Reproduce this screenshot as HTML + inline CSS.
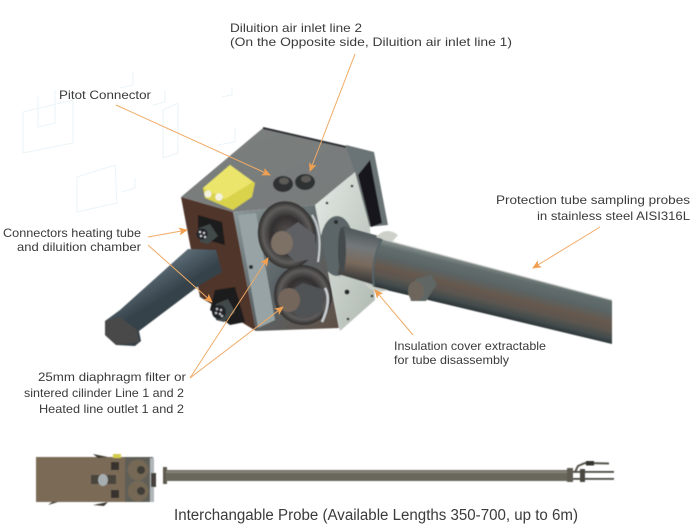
<!DOCTYPE html>
<html><head><meta charset="utf-8"><style>
html,body{margin:0;padding:0;background:#fff;width:700px;height:530px;overflow:hidden}
svg{display:block}
text{font-family:"Liberation Sans",sans-serif;font-size:12px;fill:#3a3a3a;font-weight:400}
</style></head><body>
<svg width="700" height="530" viewBox="0 0 700 530" xmlns="http://www.w3.org/2000/svg">
<defs>
<linearGradient id="tube" gradientUnits="userSpaceOnUse" x1="380" y1="240" x2="369" y2="285">
<stop offset="0" stop-color="#858e8c"/><stop offset=".12" stop-color="#626e6d"/><stop offset=".34" stop-color="#5a6464"/><stop offset=".55" stop-color="#67594e"/><stop offset=".72" stop-color="#5c5650"/><stop offset=".88" stop-color="#434c4d"/><stop offset="1" stop-color="#2c3538"/>
</linearGradient>
<linearGradient id="cyl" gradientUnits="userSpaceOnUse" x1="352" y1="226" x2="342" y2="280">
<stop offset="0" stop-color="#4a5254"/><stop offset=".35" stop-color="#73787a"/><stop offset=".65" stop-color="#7a6a5d"/><stop offset="1" stop-color="#2e3234"/>
</linearGradient>
<linearGradient id="top" x1="0" y1="0" x2="1" y2="1"><stop offset="0" stop-color="#7b7f7d"/><stop offset="1" stop-color="#777b7a"/></linearGradient>
<linearGradient id="front" x1="0" y1="0" x2="1" y2="1"><stop offset="0" stop-color="#8f9a9b"/><stop offset=".5" stop-color="#5b6467"/><stop offset="1" stop-color="#5f5046"/></linearGradient>
<linearGradient id="right" x1="0" y1="0" x2="1" y2="1"><stop offset="0" stop-color="#e4eae4"/><stop offset="1" stop-color="#aeb7b0"/></linearGradient>
<linearGradient id="handle" gradientUnits="userSpaceOnUse" x1="150" y1="270" x2="166" y2="296"><stop offset="0" stop-color="#5f6f79"/><stop offset="1" stop-color="#35424a"/></linearGradient>
<radialGradient id="disc"><stop offset="0" stop-color="#5c5755"/><stop offset=".55" stop-color="#322f30"/><stop offset=".82" stop-color="#5f5d5c"/><stop offset="1" stop-color="#2f2d2c"/></radialGradient>
<filter id="b"><feGaussianBlur stdDeviation=".6"/></filter>
<filter id="t"><feGaussianBlur stdDeviation=".22"/></filter>
<marker id="a" markerWidth="9" markerHeight="8" refX="8" refY="4" orient="auto" markerUnits="userSpaceOnUse"><path d="M0 0L9 4L0 8L2 4Z" fill="#f0a050"/></marker>
</defs>

<!-- faint background outlines -->
<g fill="none" stroke="#eaf4f9" stroke-width="1">
<path d="M23 153L23 112L73 100L73 143Z"/>
<path d="M38 97L38 127L55 123L55 90"/>
<path d="M163 158L178 153L178 103L163 110Z"/>
<path d="M77 212L117 203L115 165L77 177Z"/>
<path d="M122 192L135 188L135 178"/>
<path d="M218 145L235 142L235 128"/>
<path d="M120 88L133 85L133 72"/>
<path d="M153 105L165 102L165 90"/>
<path d="M222 97L232 95L232 88"/>
</g>

<g filter="url(#b)">
<!-- back bracket -->
<path d="M346 145L374 152L388 225L355 228Z" fill="#6b7374"/>
<path d="M358 175L370 160L382 223L371 227Z" fill="#17191a"/>
<!-- right face -->
<path d="M315 205L355 172L370 228L375 300L340 331Z" fill="url(#right)"/>
<!-- hub and cylinder -->
<ellipse cx="337" cy="246" rx="17" ry="30" fill="#5c6668"/>
<path d="M343 226L386 238L378 286L338 274Z" fill="url(#cyl)"/>
<ellipse cx="342" cy="250" rx="4" ry="23" fill="#454b4d"/>
<!-- tube -->
<path d="M382 239L612 300L612 344L374 287Q370 262 382 239Z" fill="url(#tube)"/>
<path d="M382 239L612 300" stroke="#d5d8d4" stroke-width="1" fill="none"/>
<path d="M382 239Q370 262 374 287" stroke="#566468" stroke-width="2" fill="none"/>
<!-- washer, visible above and below the tube -->
<path d="M376 237Q386 226 398 235L392 242Z" fill="#cdd0c8"/>
<path d="M364 282Q373 296 388 290L374 287Z" fill="#cdd0c8"/>
<!-- stub -->
<path d="M416 279L431 274L437 284L426 301L411 301L408 291Z" fill="#5e6664"/>
<ellipse cx="416" cy="291" rx="8" ry="10" fill="#6e665d"/>
<!-- top face -->
<path d="M181 197L263 128L346 147L355 172L315 205L233 212Z" fill="url(#top)"/>
<path d="M263 128L346 147" stroke="#2b2e30" stroke-width="2" fill="none"/>
<!-- front face -->
<path d="M233 212L315 205L339 328L256 331Z" fill="url(#front)"/>
<path d="M238 215L256 213L275 320L258 328Z" fill="#97a3a5"/>
<!-- left face -->
<path d="M181 197L233 212L256 331L200 297Z" fill="#4f352a"/>
<!-- left recesses -->
<path d="M198 215L222 222L225 245L207 240L198 232Z" fill="#1f1c1c"/>
<path d="M215 290L235 287L245 322L230 325L210 310Z" fill="#1f1c1c"/>
<!-- handle -->
<path d="M188 249L216 250L222 272L200 285L139 331L141 341L135 346L116 345L105 335L105 321L120 310Z" fill="url(#handle)"/>
<path d="M105 321L120 317L137 330L139 342L116 345L105 335Z" fill="#4a4a48"/>
<!-- connector plugs -->
<path d="M199 228L210 224L218 236L208 244L200 242Z" fill="#42484a"/>
<ellipse cx="202" cy="234" rx="5.500" ry="5.500" fill="#23262a"/>
<g fill="#d8d8d8"><circle cx="200" cy="232" r="1.100"/><circle cx="204" cy="233" r="1.100"/><circle cx="201" cy="236" r="1.100"/><circle cx="205" cy="237" r="1.100"/></g>
<path d="M216 304L228 299L235 312L224 322L216 320Z" fill="#42484a"/>
<ellipse cx="219" cy="312" rx="7" ry="7" fill="#22252a"/>
<g fill="#c8c8c8"><circle cx="217" cy="309" r="1.100"/><circle cx="221" cy="310" r="1.100"/><circle cx="216" cy="313" r="1.100"/><circle cx="220" cy="314" r="1.100"/><circle cx="222" cy="316" r="1.100"/></g>
<!-- filters -->
<ellipse cx="287" cy="235" rx="29" ry="34" transform="rotate(-12 287 235)" fill="url(#disc)"/>
<ellipse cx="303" cy="295" rx="29" ry="30" transform="rotate(-12 303 295)" fill="url(#disc)"/>
<path d="M281 234L298 222L315 235L316 258L296 262L283 250Z" fill="#5f6163"/>
<ellipse cx="282" cy="243" rx="11" ry="12" fill="#7d6f65"/>
<path d="M288 292L303 283L325 290L322 312L300 318L285 305Z" fill="#505356"/>
<ellipse cx="289" cy="300" rx="11" ry="12" fill="#75665c"/>
<path d="M312 215Q323 232 318 262" stroke="#c9cdd0" stroke-width="2" fill="none"/>
<path d="M325 288Q332 300 322 322" stroke="#c9cdd0" stroke-width="2.500" fill="none"/>
<!-- yellow connector -->
<path d="M203 188L230 165L255 183L252 197L233 210L205 198Z" fill="#d9d24c"/>
<path d="M203 188L230 165L253 182L225 199Z" fill="#ebe56c"/>
<circle cx="208" cy="194" r="3.600" fill="#f4f2df"/><circle cx="219" cy="197" r="3.800" fill="#f4f2df"/>
<!-- top connectors -->
<ellipse cx="283" cy="184" rx="10" ry="8" fill="#2f3031"/><ellipse cx="284" cy="181" rx="5" ry="3.500" fill="#5b5a56"/>
<ellipse cx="305" cy="182" rx="10" ry="8" fill="#2f3031"/><ellipse cx="306" cy="179" rx="5" ry="3.500" fill="#5b5a56"/>
<!-- bolts -->
<g fill="#26292b"><circle cx="327" cy="203" r="1.300"/><circle cx="352" cy="186" r="1.300"/><circle cx="347" cy="292" r="2.500"/><circle cx="348" cy="319" r="1.300"/><circle cx="372" cy="296" r="1.300"/><circle cx="251" cy="267" r="2"/><circle cx="336" cy="222" r="2"/></g>

<!-- bottom view -->
<rect x="36" y="457" width="90" height="45" fill="#7a6a56"/>
<path d="M93 454L108 457L98 458ZM48 505L58 502L52 502Z" fill="#3e3a33"/>
<path d="M93 505L108 502L104 506Z" fill="#3e3a33"/>
<rect x="113" y="454" width="8" height="4" fill="#d4cc4c"/>
<rect x="111" y="462" width="8" height="8" fill="#37332d"/>
<rect x="111" y="490" width="8" height="8" fill="#37332d"/>
<rect x="91" y="475" width="25" height="9" fill="#49453d"/>
<ellipse cx="103" cy="480" rx="5" ry="6" fill="#a8aeb0"/>
<rect x="125" y="457" width="28" height="45" fill="#5f5e58"/>
<rect x="150" y="458" width="4" height="44" fill="#aeb6b8"/>
<circle cx="138" cy="470" r="10.500" fill="#746855"/><circle cx="141" cy="470" r="4" fill="#3f3c38"/>
<circle cx="138" cy="491" r="10.500" fill="#746855"/><circle cx="141" cy="491" r="4" fill="#3f3c38"/>
<rect x="151" y="473" width="5" height="14" fill="#46433d"/>
<rect x="163" y="467" width="4" height="17" fill="#5e5a50"/>
<rect x="166" y="470" width="402" height="11" fill="#6a675c"/>
<rect x="166" y="471" width="402" height="2" fill="#85827a"/>
<rect x="567" y="468" width="6" height="14" fill="#5f5c52"/>
<rect x="580" y="469" width="5" height="13" fill="#4a473f"/>
<path d="M575 472L578 466L585 463L609 463.500" stroke="#55534c" stroke-width="2" fill="none"/>
<rect x="586" y="461" width="8" height="4.500" fill="#33322e"/>
<rect x="573" y="471" width="41" height="1.800" fill="#4a4943"/>
<rect x="573" y="478" width="41" height="1.800" fill="#4a4943"/>
</g>

<!-- arrows -->
<g stroke="#f0aa66" stroke-width="1" fill="none">
<path d="M116 105L270 175" marker-end="url(#a)"/>
<path d="M355 54L310 171" marker-end="url(#a)"/>
<path d="M148 237L187 230" marker-end="url(#a)"/>
<path d="M148 245L212 302" marker-end="url(#a)"/>
<path d="M190 378L268 258" marker-end="url(#a)"/>
<path d="M190 378L283 307" marker-end="url(#a)"/>
<path d="M600 227L533 268" marker-end="url(#a)"/>
<path d="M413 335L375 290" marker-end="url(#a)"/>
</g>

<!-- labels -->
<g filter="url(#t)">
<text x="230" y="32" textLength="132" lengthAdjust="spacingAndGlyphs">Diluition air inlet line 2</text>
<text x="230" y="46" textLength="282" lengthAdjust="spacingAndGlyphs">(On the Opposite side, Diluition air inlet line 1)</text>
<text x="59" y="99" textLength="92" lengthAdjust="spacingAndGlyphs">Pitot Connector</text>
<text x="3" y="237" textLength="138" lengthAdjust="spacingAndGlyphs">Connectors heating tube</text>
<text x="17" y="251" textLength="124" lengthAdjust="spacingAndGlyphs">and diluition chamber</text>
<text x="38" y="381" textLength="148" lengthAdjust="spacingAndGlyphs">25mm diaphragm filter or</text>
<text x="24" y="397" textLength="160" lengthAdjust="spacingAndGlyphs">sintered cilinder Line 1 and 2</text>
<text x="39" y="413" textLength="145" lengthAdjust="spacingAndGlyphs">Heated line outlet 1 and 2</text>
<text x="496" y="204" textLength="194" lengthAdjust="spacingAndGlyphs">Protection tube sampling probes</text>
<text x="537" y="220" textLength="153" lengthAdjust="spacingAndGlyphs">in stainless steel AISI316L</text>
<text x="394" y="350" textLength="152" lengthAdjust="spacingAndGlyphs">Insulation cover extractable</text>
<text x="394" y="364" textLength="115" lengthAdjust="spacingAndGlyphs">for tube disassembly</text>
<text x="174" y="520" textLength="404" lengthAdjust="spacingAndGlyphs" style="font-size:15.500px">Interchangable Probe (Available Lengths 350-700, up to 6m)</text>
</g>
</svg>
</body></html>
